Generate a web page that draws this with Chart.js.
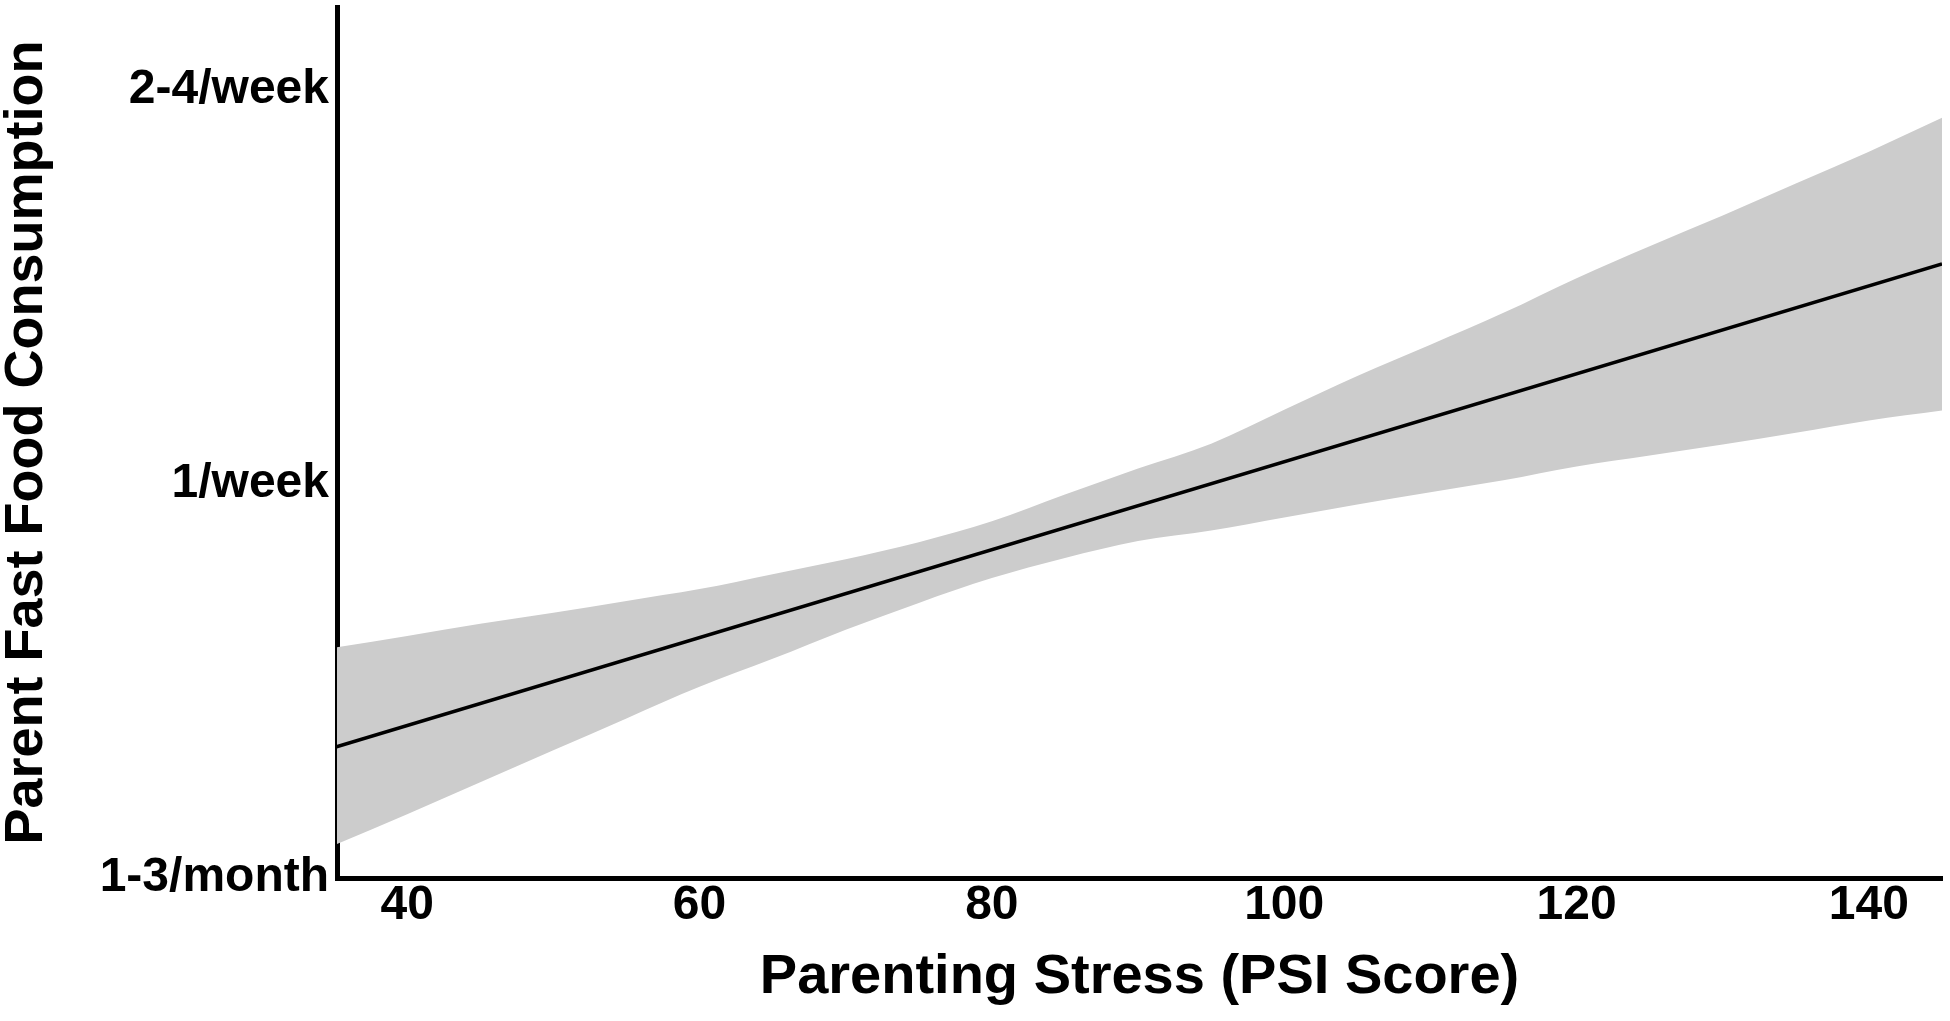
<!DOCTYPE html>
<html>
<head>
<meta charset="utf-8">
<title>Parent Fast Food Consumption vs Parenting Stress</title>
<script src="https://cdn.jsdelivr.net/npm/chart.js@4.4.1/dist/chart.umd.min.js"></script>
<style>
  html, body { margin: 0; padding: 0; background: #fff; }
  #wrap { width: 1950px; height: 1021px; }
</style>
</head>
<body>
<div id="wrap"><canvas id="chart" width="1950" height="1021"></canvas></div>
<script>
const psiScores = [35, 40, 45, 50, 55, 60, 65, 70, 75, 80, 85, 90, 95, 100, 105, 110, 115, 120, 125, 130, 135, 140, 145];
const bandUpper = [0.584, 0.614, 0.645, 0.673, 0.703, 0.733, 0.771, 0.809, 0.852, 0.905, 0.973, 1.039, 1.102, 1.188, 1.274, 1.353, 1.434, 1.522, 1.603, 1.681, 1.762, 1.843, 1.929];
const bandLower = [0.083, 0.162, 0.243, 0.324, 0.405, 0.485, 0.556, 0.630, 0.698, 0.761, 0.812, 0.855, 0.882, 0.915, 0.948, 0.979, 1.009, 1.044, 1.072, 1.100, 1.130, 1.161, 1.186];

// regression line end points
const fitX = [35, 145];
const fitY = [0.331, 1.558];

const xTicks = [40, 60, 80, 100, 120, 140];
const yTicks = [0, 1, 2];
const yTickLabels = ['1-3/month', '1/week', '2-4/week'];

const FONT = "'Liberation Sans', Arial, Helvetica, sans-serif";

const toPoints = (xs, ys) => xs.map((x, i) => ({ x: x, y: ys[i] }));

new Chart(document.getElementById('chart'), {
    type: 'line',
    data: {
        datasets: [
            {
                label: 'Fit',
                data: toPoints(fitX, fitY),
                borderColor: '#000000',
                borderWidth: 3.5,
                pointRadius: 0,
                fill: false
            },
            {
                label: 'Upper',
                data: toPoints(psiScores, bandUpper),
                borderWidth: 0,
                borderColor: 'rgba(0,0,0,0)',
                backgroundColor: '#cccccc',
                pointRadius: 0,
                cubicInterpolationMode: 'monotone',
                fill: '+1'
            },
            {
                label: 'Lower',
                data: toPoints(psiScores, bandLower),
                borderWidth: 0,
                borderColor: 'rgba(0,0,0,0)',
                pointRadius: 0,
                cubicInterpolationMode: 'monotone',
                fill: false
            }
        ]
    },
    options: {
        responsive: false,
        animation: false,
        layout: { padding: { top: 7, right: 8, left: 0, bottom: 0 } },
        plugins: {
            legend: { display: false },
            tooltip: { enabled: false }
        },
        scales: {
            x: {
                type: 'linear',
                min: 35.2,
                max: 145,
                grid: { display: false, drawTicks: false },
                border: { display: true, color: '#000000', width: 5 },
                afterBuildTicks: (scale) => { scale.ticks = xTicks.map(v => ({ value: v })); },
                afterFit: (scale) => {
                    scale.height = 143;
                    scale.paddingLeft = 0;
                    scale.paddingRight = 0;
                },
                ticks: {
                    color: '#000000',
                    padding: 4,
                    font: { family: FONT, size: 48, weight: 'bold', lineHeight: 1 },
                    maxRotation: 0
                },
                title: {
                    display: true,
                    text: 'Parenting Stress (PSI Score)',
                    color: '#000000',
                    font: { family: FONT, size: 56, weight: 'bold', lineHeight: 1 },
                    padding: { top: 0, bottom: 15 }
                }
            },
            y: {
                type: 'linear',
                min: 0,
                max: 2.21,
                grid: { display: false, drawTicks: false },
                border: { display: true, color: '#000000', width: 5 },
                afterBuildTicks: (scale) => { scale.ticks = yTicks.map(v => ({ value: v })); },
                afterFit: (scale) => {
                    scale.width = 337;
                    scale.paddingTop = 0;
                    scale.paddingBottom = 0;
                },
                ticks: {
                    color: '#000000',
                    padding: 8,
                    font: { family: FONT, size: 48, weight: 'bold', lineHeight: 1 },
                    callback: (v) => yTickLabels[yTicks.indexOf(v)]
                },
                title: {
                    display: true,
                    text: 'Parent Fast Food Consumption',
                    color: '#000000',
                    font: { family: FONT, size: 54, weight: 'bold', lineHeight: 1 },
                    padding: { top: 0, bottom: 0 }
                }
            }
        }
    }
});
</script>
</body>
</html>
